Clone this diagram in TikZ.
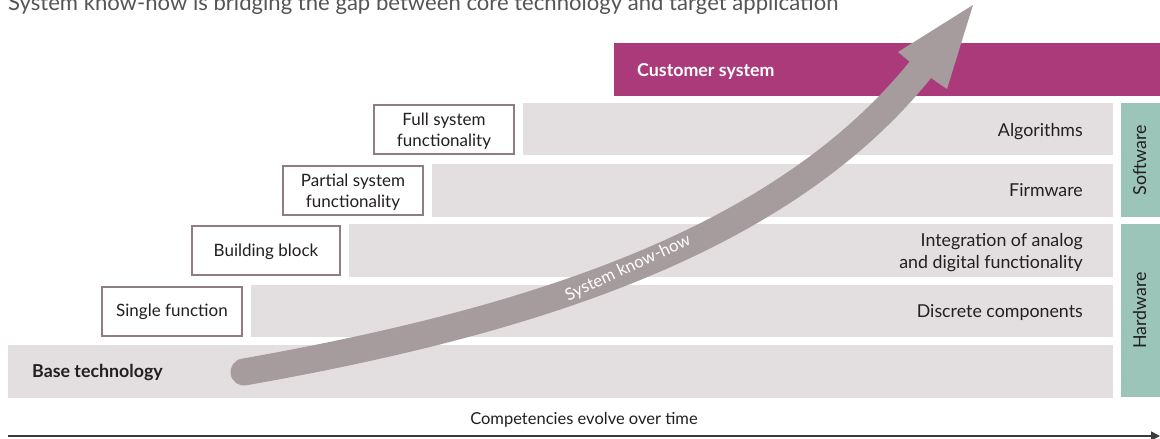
\documentclass[tikz,border=0pt]{standalone}
\usepackage{fontspec}
\setmainfont{Lato}
\usetikzlibrary{arrows.meta}
\definecolor{rowgray}{HTML}{E3DFE0}
\definecolor{arrowgray}{HTML}{A69B9D}
\definecolor{custmag}{HTML}{AA3A7A}
\definecolor{sidegreen}{HTML}{9BC5B8}
\definecolor{boxborder}{HTML}{8E7E83}
\definecolor{txt}{HTML}{231F20}
\definecolor{titlegray}{HTML}{555555}
\definecolor{axisgray}{HTML}{3C3C3C}
\begin{document}
\begin{tikzpicture}[x=1pt,y=-1pt,
  row/.style={fill=rowgray, draw=none, inner sep=0pt, anchor=north west},
  side/.style={fill=sidegreen, draw=none, inner sep=0pt, anchor=north west},
  lbox/.style={draw=boxborder, line width=2pt, fill=white, inner sep=0pt,
    minimum width=140pt, minimum height=49pt},
  boxtext/.style={align=center, font=\fontsize{17}{21}\selectfont, text=txt, inner sep=0pt},
  rowtext/.style={anchor=base east, align=right, font=\fontsize{17.8}{22}\selectfont, text=txt, inner sep=0pt},
  boldtext/.style={anchor=base west, font=\fontsize{17.8}{22}\selectfont\bfseries, inner sep=0pt},
  sidetext/.style={rotate=90, font=\fontsize{17.8}{22}\selectfont, text=txt, inner sep=0pt},
  axis/.style={draw=axisgray, line width=1.5pt, -{Triangle[length=9pt,width=9pt]}},
  bigarrow/.style={draw=arrowgray, line width=27pt, line cap=round}
]
\useasboundingbox (0,0) rectangle (1160,439);

% title (cut at top)
\node[anchor=base west, inner sep=0pt, text=titlegray, font=\fontsize{22.1}{26}\selectfont] (title) at (8,10)
  {System know-how is bridging the gap between core technology and target application};

% rows
\node[row, minimum width=1105pt, minimum height=53pt] (base) at (8,345) {};
\node[row, minimum width=862pt, minimum height=52pt] (disc) at (251,285) {};
\node[row, minimum width=764pt, minimum height=53pt] (integ) at (349,224) {};
\node[row, minimum width=681pt, minimum height=53pt] (firm) at (432,164) {};
\node[row, minimum width=590pt, minimum height=52pt] (algo) at (523,103) {};
\node[fill=custmag, inner sep=0pt, anchor=north west, minimum width=546pt, minimum height=53pt] (cust) at (614,43) {};

% side bars
\node[side, minimum width=39pt, minimum height=114pt] (sw) at (1121,103) {};
\node[side, minimum width=39pt, minimum height=173pt] (hw) at (1121,224) {};
\node[sidetext] (swt) at ([xshift=-1pt]sw.center) {Software};
\node[sidetext] (hwt) at ([xshift=-1pt]hw.center) {Hardware};

% row texts
\node[boldtext, text=txt] (baset) at (32,377.5) {Base technology};
\node[boldtext, text=white] (custt) at (637,76) {Customer system};
\node[rowtext] (disct) at (1083,317) {Discrete components};
\node[rowtext, anchor=east] (integt) at (1083,252.5) {Integration of analog\\and digital functionality};
\node[rowtext] (firmt) at (1083,196.5) {Firmware};
\node[rowtext] (algot) at (1083,136) {Algorithms};

% left boxes
\node[lbox] (single) at (172,311.5) {};
\node[lbox, minimum width=148pt] (build) at (266,250.5) {};
\node[lbox] (partial) at (353,190.5) {};
\node[lbox] (full) at (444,129.5) {};
\node[boxtext, anchor=base] (singlet) at (172,316.7) {Single function};
\node[boxtext, anchor=base] (buildt) at (266,256.5) {Building block};
\node[boxtext] (partialt) at (353,192.5) {Partial system\\functionality};
\node[boxtext] (fullt) at (444,131.5) {Full system\\functionality};

% big arrow
\coordinate (a0) at (244,372);
\coordinate (a3) at (921,69);
\fill[arrowgray] (973,5) -- (898,52) -- (910,62) -- (931,78) -- (947,89) -- cycle;
\draw[bigarrow] (a0) .. controls (539,320) and (784,239) .. (a3);
\node[rotate=25, text=white, inner sep=0pt, font=\fontsize{16.8}{20}\selectfont] (kh) at (628,268) {System know-how};

% time axis
\coordinate (ax0) at (8,436);
\coordinate (ax1) at (1160,436);
\draw[axis] (ax0) -- (ax1);
\node[anchor=base, inner sep=0pt, text=txt, font=\fontsize{16.5}{20}\selectfont] (axl) at (584,424) {Competencies evolve over time};
\end{tikzpicture}
\end{document}
